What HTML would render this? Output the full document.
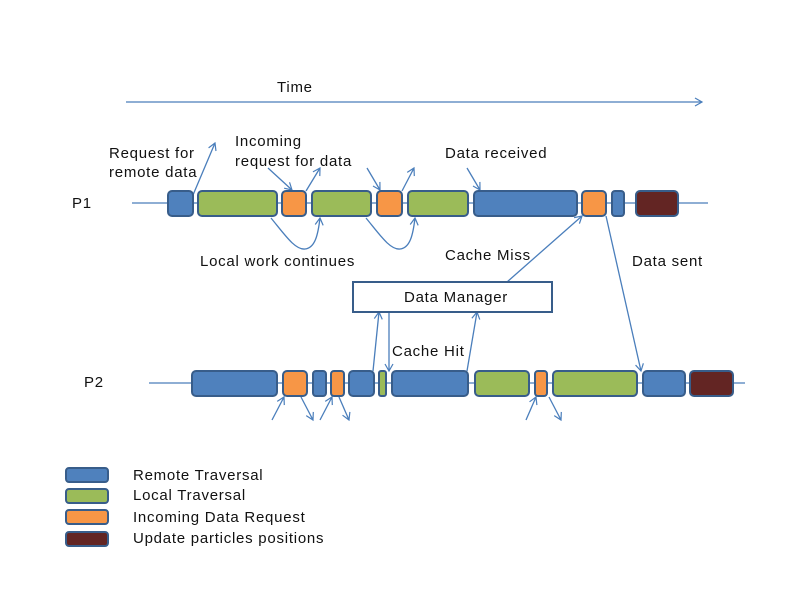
<!DOCTYPE html>
<html><head><meta charset="utf-8"><style>body{margin:0;background:#fff}svg{display:block}text{font-family:"Liberation Sans",sans-serif;font-size:15px;letter-spacing:0.75px;fill:#111}</style></head><body>
<svg width="792" height="612" viewBox="0 0 792 612" xmlns="http://www.w3.org/2000/svg">
<defs><marker id="a" markerWidth="10" markerHeight="10" refX="8" refY="5" orient="auto" markerUnits="userSpaceOnUse"><path d="M1,1 L8,5 L1,9" fill="none" stroke="#4a7ebb" stroke-width="1.2"/></marker></defs>
<g stroke="#4a7ebb" stroke-width="1.3" fill="none">
<line x1="126" y1="102" x2="702" y2="102" marker-end="url(#a)"/>
<line x1="132" y1="203" x2="708" y2="203"/>
<line x1="149" y1="383" x2="745" y2="383"/>
<line x1="193" y1="195" x2="215" y2="143" marker-end="url(#a)"/>
<line x1="268" y1="168" x2="292" y2="190" marker-end="url(#a)"/>
<line x1="306" y1="191" x2="320" y2="168" marker-end="url(#a)"/>
<line x1="367" y1="168" x2="380" y2="190" marker-end="url(#a)"/>
<line x1="402" y1="191" x2="414" y2="168" marker-end="url(#a)"/>
<line x1="467" y1="168" x2="480" y2="190" marker-end="url(#a)"/>
<path d="M271,218 C285,235 295,250 305,249 C315,248 318,235 320,218" marker-end="url(#a)"/>
<path d="M366,218 C380,235 390,250 400,249 C410,248 413,235 415,218" marker-end="url(#a)"/>
<line x1="507" y1="282" x2="582" y2="216" marker-end="url(#a)"/>
<line x1="606" y1="216" x2="641" y2="371" marker-end="url(#a)"/>
<line x1="373" y1="371" x2="379" y2="312" marker-end="url(#a)"/>
<line x1="389" y1="312" x2="389" y2="371" marker-end="url(#a)"/>
<line x1="467" y1="371" x2="477" y2="312" marker-end="url(#a)"/>
<line x1="272" y1="420" x2="284" y2="397" marker-end="url(#a)"/>
<line x1="301" y1="397" x2="313" y2="420" marker-end="url(#a)"/>
<line x1="320" y1="420" x2="332" y2="397" marker-end="url(#a)"/>
<line x1="339" y1="397" x2="349" y2="420" marker-end="url(#a)"/>
<line x1="526" y1="420" x2="536" y2="397" marker-end="url(#a)"/>
<line x1="549" y1="397" x2="561" y2="420" marker-end="url(#a)"/>
</g>
<g stroke="#385d8a" stroke-width="2">
<rect x="168" y="191" width="25" height="25" rx="4" fill="#4f81bd"/>
<rect x="198" y="191" width="79" height="25" rx="4" fill="#9bbb59"/>
<rect x="282" y="191" width="24" height="25" rx="4" fill="#f79646"/>
<rect x="312" y="191" width="59" height="25" rx="4" fill="#9bbb59"/>
<rect x="377" y="191" width="25" height="25" rx="4" fill="#f79646"/>
<rect x="408" y="191" width="60" height="25" rx="4" fill="#9bbb59"/>
<rect x="474" y="191" width="103" height="25" rx="4" fill="#4f81bd"/>
<rect x="582" y="191" width="24" height="25" rx="4" fill="#f79646"/>
<rect x="612" y="191" width="12" height="25" rx="3" fill="#4f81bd"/>
<rect x="636" y="191" width="42" height="25" rx="4" fill="#632523"/>
<rect x="192" y="371" width="85" height="25" rx="4" fill="#4f81bd"/>
<rect x="283" y="371" width="24" height="25" rx="4" fill="#f79646"/>
<rect x="313" y="371" width="13" height="25" rx="3" fill="#4f81bd"/>
<rect x="331" y="371" width="13" height="25" rx="3" fill="#f79646"/>
<rect x="349" y="371" width="25" height="25" rx="4" fill="#4f81bd"/>
<rect x="379" y="371" width="7" height="25" rx="2" fill="#9bbb59"/>
<rect x="392" y="371" width="76" height="25" rx="4" fill="#4f81bd"/>
<rect x="475" y="371" width="54" height="25" rx="4" fill="#9bbb59"/>
<rect x="535" y="371" width="12" height="25" rx="3" fill="#f79646"/>
<rect x="553" y="371" width="84" height="25" rx="4" fill="#9bbb59"/>
<rect x="643" y="371" width="42" height="25" rx="4" fill="#4f81bd"/>
<rect x="690" y="371" width="43" height="25" rx="4" fill="#632523"/>
<rect x="353" y="282" width="199" height="30" fill="#fff"/>
<rect x="66" y="468" width="42" height="14" rx="3" fill="#4f81bd"/>
<rect x="66" y="489" width="42" height="14" rx="3" fill="#9bbb59"/>
<rect x="66" y="510" width="42" height="14" rx="3" fill="#f79646"/>
<rect x="66" y="532" width="42" height="14" rx="3" fill="#632523"/>
</g>
<text x="277" y="92">Time</text>
<text x="109" y="158">Request for</text>
<text x="109" y="177">remote data</text>
<text x="235" y="146">Incoming</text>
<text x="235" y="166">request for data</text>
<text x="445" y="158">Data received</text>
<text x="72" y="208">P1</text>
<text x="84" y="387">P2</text>
<text x="200" y="266">Local work continues</text>
<text x="445" y="260">Cache Miss</text>
<text x="632" y="266">Data sent</text>
<text x="404" y="302">Data Manager</text>
<text x="392" y="356">Cache Hit</text>
<text x="133" y="480">Remote Traversal</text>
<text x="133" y="500">Local Traversal</text>
<text x="133" y="522">Incoming Data Request</text>
<text x="133" y="543">Update particles positions</text>
</svg>
</body></html>
